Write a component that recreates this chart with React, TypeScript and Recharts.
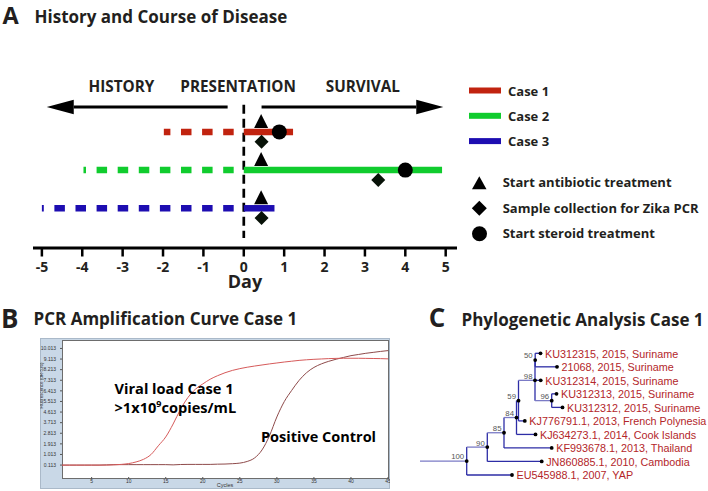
import React from 'react';
import {
  ComposedChart,
  LineChart,
  Line,
  XAxis,
  YAxis,
  Scatter,
  ReferenceLine,
  ReferenceDot,
} from 'recharts';

const FONT = "'Open Sans', sans-serif";
const ARIAL = "'Liberation Sans', Arial, sans-serif";

// ---- Panel A: history and course of disease ----
const dayTicks = [-5, -4, -3, -2, -1, 0, 1, 2, 3, 4, 5];
const caseNames = ['Case 1', 'Case 2', 'Case 3'];
const caseColors = ['#c1230f', '#10cc2e', '#1d0db1'];
const caseRows = [3, 2, 1];
const historyStart = [-1.98, -3.97, -5.0];
const historyEnd = -0.25;
const survivalEnd = [1.22, 4.91, 0.76];
const antibioticDay = [0.43, 0.43, 0.43];
const sampleDay = [0.44, 3.33, 0.44];
const steroidDay = [0.88, 4.0, null];
const phaseLabels = ['HISTORY', 'PRESENTATION', 'SURVIVAL'];
const phaseDay = [-3.03, -0.14, 2.95];
const eventLabels = [
  'Start antibiotic treatment',
  'Sample collection for Zika PCR',
  'Start steroid treatment',
];

// ---- Panel B: PCR amplification ----
const case1Fluor = [
  0.11, 0.11, 0.11, 0.11, 0.11, 0.11, 0.11, 0.13, 0.17, 0.24,
  0.38, 0.6, 1.0, 1.75, 2.5, 3.6, 4.85, 5.85, 6.55, 7.0,
  7.4, 7.7, 7.95, 8.15, 8.3, 8.42, 8.52, 8.61, 8.7, 8.78,
  8.86, 8.93, 9.0, 9.05, 9.09, 9.12, 9.15, 9.17, 9.18, 9.18,
  9.18, 9.17, 9.16, 9.15, 9.13,
];
const controlFluor = [
  0.11, 0.11, 0.11, 0.11, 0.11, 0.11, 0.13, 0.15, 0.15, 0.15,
  0.15, 0.15, 0.15, 0.15, 0.15, 0.13, 0.16, 0.17, 0.17, 0.17,
  0.17, 0.19, 0.2, 0.23, 0.28, 0.42, 0.72, 1.4, 2.6, 4.2,
  5.5, 6.45, 7.3, 7.95, 8.4, 8.7, 8.92, 9.1, 9.25, 9.4,
  9.5, 9.6, 9.68, 9.76, 9.83,
];
const cycleTicks = [5, 10, 15, 20, 25, 30, 35, 40, 45];
const fluorTicks = [0.113, 1.013, 1.913, 2.813, 3.713, 4.613, 5.513, 6.413, 7.313, 8.213, 9.113, 10.013];

// ---- Panel C: phylogeny ----
const tipNames = [
  'KU312315, 2015, Suriname',
  '21068, 2015, Suriname',
  'KU312314, 2015, Suriname',
  'KU312313, 2015, Suriname',
  'KU312312, 2015, Suriname',
  'KJ776791.1, 2013, French Polynesia',
  'KJ634273.1, 2014, Cook Islands',
  'KF993678.1, 2013, Thailand',
  'JN860885.1, 2010, Cambodia',
  'EU545988.1, 2007, YAP',
];
const tipDepth = [12.05, 13.7, 12.07, 13.65, 14.25, 10.48, 11.55, 13.17, 12.17, 9.2];
const clades = [
  { id: 'n50', depth: 11.52, support: 50, children: ['t0', 't1'] },
  { id: 'n96', depth: 13.17, support: 96, children: ['t3', 't4'] },
  { id: 'n98', depth: 11.5, support: 98, children: ['n50', 't2', 'n96'] },
  { id: 'n59', depth: 9.85, support: 59, children: ['n98', 't5'] },
  { id: 'n84', depth: 9.65, support: 84, children: ['n59', 't6'] },
  { id: 'n85', depth: 8.4, support: 85, children: ['n84', 't7'] },
  { id: 'n90', depth: 6.73, support: 90, children: ['n85', 't8'] },
  { id: 'root', depth: 4.67, support: 100, children: ['n90', 't9'] },
];

const pcrData = case1Fluor.map((v, i) => ({ cycle: i + 1, case1: v, control: controlFluor[i] }));

// tree layout
const nodePos: Record<string, { x: number; y: number }> = {};
tipNames.forEach((n, i) => (nodePos['t' + i] = { x: tipDepth[i], y: i }));
clades.forEach((c) => {
  const ys = c.children.map((k) => nodePos[k].y);
  nodePos[c.id] = { x: c.depth, y: (Math.min(...ys) + Math.max(...ys)) / 2 };
});
const branches: { x1: number; y1: number; x2: number; y2: number; light: boolean }[] = [];
clades.forEach((c) => {
  const p = nodePos[c.id];
  const ys = c.children.map((k) => nodePos[k].y);
  branches.push({ x1: p.x, y1: Math.min(...ys), x2: p.x, y2: Math.max(...ys), light: false });
  c.children.forEach((k) => {
    const q = nodePos[k];
    branches.push({ x1: p.x, y1: q.y, x2: q.x, y2: q.y, light: k[0] === 'n' });
  });
});
const rootPos = nodePos['root'];
branches.push({ x1: 0, y1: rootPos.y, x2: rootPos.x, y2: rootPos.y, light: true });
const tipPoints = tipNames.map((name, i) => ({ x: tipDepth[i], y: i, name }));
const cladePoints = clades.map((c) => ({ ...nodePos[c.id], support: c.support }));

const triangles = caseRows.map((r, i) => ({ x: antibioticDay[i], y: r }));
const diamonds = caseRows.map((r, i) => ({ x: sampleDay[i], y: r }));
const circles = caseRows
  .map((r, i) => ({ x: steroidDay[i], y: r }))
  .filter((d) => d.x !== null);

const Triangle = (p: any) => (
  <polygon points={`${p.cx - 7},${p.cy - 4} ${p.cx + 7},${p.cy - 4} ${p.cx},${p.cy - 18}`} fill="#000" />
);
const Diamond = (p: any) => {
  const c = p.cy + 9.8;
  return <polygon points={`${p.cx},${c - 7} ${p.cx + 7},${c} ${p.cx},${c + 7} ${p.cx - 7},${c}`} fill="#081208" />;
};
const Dot = (p: any) => <circle cx={p.cx} cy={p.cy} r={7.5} fill="#000" />;

const Arrow = (p: any) => {
  const { x1, y1, x2 } = p;
  const dir = x2 > x1 ? 1 : -1;
  const base = x2 - dir * 27;
  return (
    <g>
      <line x1={x1} y1={y1} x2={base} y2={y1} stroke="#000" strokeWidth={3} />
      <polygon points={`${base},${y1 - 7.3} ${x2},${y1} ${base},${y1 + 7.3}`} fill="#000" />
    </g>
  );
};

const TipMark = (p: any) => (
  <g>
    <circle cx={p.cx} cy={p.cy} r={1.9} fill="#000" />
    <text x={p.cx + 4.5} y={p.cy + 4.3} fontSize={10.8} fill="#b3262a" fontFamily={ARIAL}>
      {p.payload.name}
    </text>
  </g>
);
const CladeMark = (p: any) => (
  <g>
    <circle cx={p.cx} cy={p.cy} r={1.9} fill="#000" />
    <text x={p.cx - 2.5} y={p.cy - 1.6} fontSize={7.8} fill="#555" textAnchor="end" fontFamily={ARIAL}>
      {p.payload.support}
    </text>
  </g>
);

const boldText = (size: number): React.CSSProperties => ({
  position: 'absolute',
  fontFamily: FONT,
  fontWeight: 700,
  fontSize: size,
  lineHeight: 1,
  color: '#231f20',
  whiteSpace: 'nowrap',
});

const axisBlack = { stroke: '#000', strokeWidth: 3 };

export default function App() {
  return (
    <div style={{ position: 'absolute', left: 0, top: 0, width: 708, height: 491, background: '#fff', overflow: 'hidden' }}>
      {/* headers */}
      <div style={{ ...boldText(23.5), left: 2.5, top: 4.4 }}>A</div>
      <div style={{ ...boldText(17), left: 34.5, top: 7.7 }}>History and Course of Disease</div>
      <div style={{ ...boldText(26), left: 1, top: 304.8 }}>B</div>
      <div style={{ ...boldText(17), left: 33.5, top: 309.7 }}>PCR Amplification Curve Case 1</div>
      <div style={{ ...boldText(26), left: 428.7, top: 303.8 }}>C</div>
      <div style={{ ...boldText(17), left: 461.5, top: 311 }}>Phylogenetic Analysis Case 1</div>

      {/* Panel A */}
      <div style={{ position: 'absolute', left: 0, top: 40 }}>
        <ComposedChart width={470} height={255} margin={{ top: 43, right: 13, bottom: 7, left: 33 }}>
          <XAxis
            type="number"
            dataKey="x"
            domain={[-5.22, 5.28]}
            ticks={dayTicks}
            interval={0}
            allowDataOverflow
            height={40}
            axisLine={axisBlack}
            tickLine={{ stroke: '#000', strokeWidth: 2.5 }}
            tickSize={8.5}
            tickMargin={5.5}
            tick={{ fill: '#231f20', fontSize: 14, fontWeight: 700, fontFamily: FONT }}
            label={{ value: 'Day', position: 'insideBottom', offset: 0, fill: '#231f20', fontSize: 18, fontWeight: 700, fontFamily: FONT }}
          />
          <YAxis type="number" dataKey="y" domain={[-0.04, 4.28]} width={0} tick={false} tickLine={false} axisLine={axisBlack} allowDataOverflow />
          <YAxis yAxisId="r" orientation="right" type="number" domain={[0, 1]} width={0} tick={false} tickLine={false} axisLine={axisBlack} />

          {phaseLabels.map((t, i) => (
            <ReferenceDot
              key={t}
              x={phaseDay[i]}
              y={4.18}
              r={0}
              fill="none"
              stroke="none"
              label={{ value: t, position: 'center', fill: '#231f20', fontSize: 15.3, fontWeight: 700, fontFamily: FONT }}
            />
          ))}
          <ReferenceLine segment={[{ x: -0.4, y: 3.65 }, { x: -4.88, y: 3.65 }]} shape={Arrow} />
          <ReferenceLine segment={[{ x: 0.44, y: 3.65 }, { x: 4.94, y: 3.65 }]} shape={Arrow} />
          <ReferenceLine segment={[{ x: 0, y: 3.71 }, { x: 0, y: 0.22 }]} stroke="#000" strokeWidth={2.7} strokeDasharray="9 5" />

          {caseNames.map((c, i) => (
            <ReferenceLine
              key={'h' + c}
              segment={[{ x: historyEnd, y: caseRows[i] }, { x: historyStart[i], y: caseRows[i] }]}
              stroke={caseColors[i]}
              strokeWidth={6.5}
              strokeDasharray="10.5 10.6"
            />
          ))}
          {caseNames.map((c, i) => (
            <ReferenceLine
              key={'s' + c}
              segment={[{ x: 0, y: caseRows[i] }, { x: survivalEnd[i], y: caseRows[i] }]}
              stroke={caseColors[i]}
              strokeWidth={6.5}
            />
          ))}
          <Scatter data={triangles} shape={Triangle} isAnimationActive={false} />
          <Scatter data={diamonds} shape={Diamond} isAnimationActive={false} />
          <Scatter data={circles} shape={Dot} isAnimationActive={false} />
        </ComposedChart>
      </div>

      {/* Panel A legend */}
      <svg style={{ position: 'absolute', left: 460, top: 75 }} width={248} height={175}>
        {caseNames.map((c, i) => {
          const y = 15.5 + i * 25.3;
          return (
            <g key={c}>
              <line x1={9} x2={41} y1={y} y2={y} stroke={caseColors[i]} strokeWidth={6} />
              <text x={48} y={y + 0.6 + 4.6} fontSize={13} fontWeight={700} fontFamily={FONT} fill="#231f20">
                {c}
              </text>
            </g>
          );
        })}
        {eventLabels.map((t, i) => {
          const y = 107.8 + i * 25.5;
          return (
            <g key={t}>
              {i === 0 && <polygon points={`${12},${y + 6.5} ${26.5},${y + 6.5} ${19.3},${y - 6.5}`} fill="#000" />}
              {i === 1 && <polygon points={`${19.3},${y - 7.5} ${26.8},${y} ${19.3},${y + 7.5} ${11.8},${y}`} fill="#000" />}
              {i === 2 && <circle cx={19.5} cy={y} r={7.5} fill="#000" />}
              <text x={42.7} y={y + 4.6} fontSize={13} fontWeight={700} fontFamily={FONT} fill="#231f20">
                {t}
              </text>
            </g>
          );
        })}
      </svg>

      {/* Panel B */}
      <div style={{ position: 'absolute', left: 40, top: 337.5, width: 350, height: 151, background: '#c9d8e7', border: '1px solid #aab9c9', boxSizing: 'border-box' }} />
      <div style={{ position: 'absolute', left: 61.5, top: 340, width: 327, height: 139, background: '#fff', border: '1px solid #6d6d6d', boxSizing: 'border-box' }} />
      <div style={{ position: 'absolute', left: 40, top: 337 }}>
        <LineChart width={350} height={151} data={pcrData} margin={{ top: 3, right: 2, bottom: 2, left: 0 }}>
          <XAxis
            type="number"
            dataKey="cycle"
            domain={[1, 45]}
            ticks={cycleTicks}
            interval={0}
            height={9}
            axisLine={false}
            tickLine={{ stroke: '#555' }}
            tickSize={2}
            tickMargin={0}
            tick={{ fontSize: 5, fill: '#333', fontFamily: ARIAL }}
            label={{ value: 'Cycles', position: 'insideBottom', offset: -1, fontSize: 5.5, fill: '#333', fontFamily: ARIAL }}
          />
          <YAxis
            type="number"
            domain={[-0.9, 10.73]}
            ticks={fluorTicks}
            interval={0}
            width={22}
            axisLine={false}
            tickLine={{ stroke: '#555' }}
            tickSize={2}
            tickMargin={4}
            tickFormatter={(v) => Number(v).toFixed(3)}
            tick={{ fontSize: 5, fill: '#333', fontFamily: ARIAL }}
            label={{ value: 'Fluorescence (dR-536)', angle: -90, position: 'insideLeft', offset: 1, fontSize: 4.5, fill: '#333', fontFamily: ARIAL }}
          />
          <Line type="monotone" dataKey="control" stroke="#8e4a4a" strokeWidth={1} dot={false} isAnimationActive={false} />
          <Line type="monotone" dataKey="case1" stroke="#d65a5a" strokeWidth={1} dot={false} isAnimationActive={false} />
        </LineChart>
      </div>
      <div style={{ ...boldText(14.6), left: 114.5, top: 380.8, color: '#000' }}>Viral load Case 1</div>
      <div style={{ ...boldText(14.6), left: 114.5, top: 399.2, color: '#000' }}>
        &gt;1x10<sup style={{ fontSize: 9, verticalAlign: 6 }}>9</sup>copies/mL
      </div>
      <div style={{ ...boldText(14.5), left: 261, top: 430.2, color: '#000' }}>Positive Control</div>

      {/* Panel C */}
      <div style={{ position: 'absolute', left: 420, top: 340 }}>
        <ComposedChart width={288} height={150} margin={{ top: 0, right: 0, bottom: 0, left: 0 }}>
          <XAxis type="number" dataKey="x" domain={[0, 28.8]} hide allowDataOverflow />
          <YAxis type="number" dataKey="y" domain={[-0.984, 10.11]} reversed hide allowDataOverflow />
          {branches.map((b, i) => (
            <ReferenceLine
              key={i}
              segment={[{ x: b.x1, y: b.y1 }, { x: b.x2, y: b.y2 }]}
              stroke={b.light ? '#7b7bc6' : '#2d2da6'}
              strokeWidth={1.3}
            />
          ))}
          <Scatter data={tipPoints} shape={TipMark} isAnimationActive={false} />
          <Scatter data={cladePoints} shape={CladeMark} isAnimationActive={false} />
        </ComposedChart>
      </div>
    </div>
  );
}
